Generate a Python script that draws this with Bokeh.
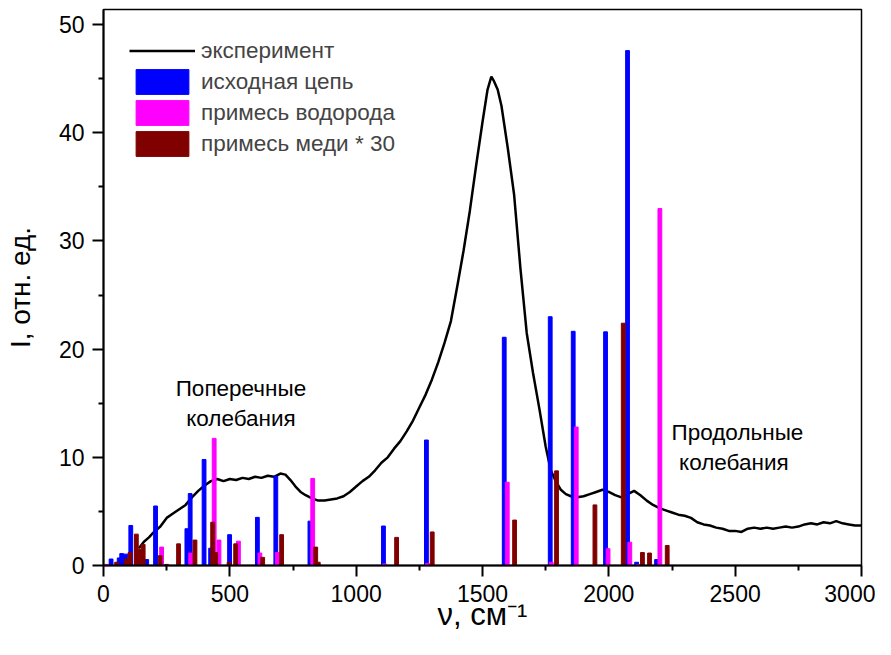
from bokeh.plotting import figure
from bokeh.models import Range1d, FixedTicker, Label, Legend, LegendItem
from bokeh.embed import file_html
from bokeh.resources import INLINE

FONT = "Liberation Sans"

# experimental spectrum (wavenumber, intensity)
exp_v = [140, 160, 180, 200, 225, 250, 275, 300, 325, 350, 375, 400, 425, 450, 475,
         500, 525, 550, 575, 600, 625, 650, 675, 700, 720, 740, 760, 780, 800, 825,
         850, 875, 900, 925, 950, 975, 1000, 1025, 1050, 1075, 1100, 1125, 1150, 1175,
         1200, 1225, 1250, 1275, 1300, 1325, 1350, 1375, 1400, 1425, 1450, 1475, 1500,
         1520, 1535, 1545, 1560, 1575, 1600, 1625, 1650, 1675, 1700, 1725, 1750, 1770,
         1790, 1810, 1830, 1850, 1875, 1900, 1925, 1950, 1975, 2000, 2025, 2050, 2075,
         2100, 2125, 2150, 2175, 2200, 2225, 2250, 2275, 2300, 2325, 2350, 2375, 2400,
         2425, 2450, 2475, 2500, 2525, 2550, 2575, 2600, 2625, 2650, 2675, 2700, 2725,
         2750, 2775, 2800, 2825, 2850, 2875, 2900, 2925, 2950, 2975, 3000]
exp_i = [1.6, 2.2, 2.6, 3.1, 3.6, 4.4, 4.8, 5.2, 5.6, 6.3, 6.9, 7.4, 7.8, 8.0, 7.8,
         8.0, 7.9, 8.1, 8.0, 8.2, 8.1, 8.3, 8.2, 8.5, 8.4, 7.9, 7.3, 6.8, 6.5, 6.2,
         6.0, 6.0, 6.1, 6.2, 6.4, 6.8, 7.3, 7.8, 8.2, 8.8, 9.5, 10.0, 10.8, 11.5,
         12.4, 13.4, 14.6, 15.8, 17.2, 18.8, 20.6, 22.6, 25.8, 29.1, 32.8, 37.0, 41.0,
         44.0, 45.2, 44.8, 44.0, 42.5, 38.6, 34.3, 27.5, 21.5, 17.8, 14.5, 11.0, 8.8,
         7.8, 7.0, 6.6, 6.4, 6.3, 6.4, 6.6, 6.8, 7.0, 6.8, 6.5, 6.3, 6.6,
         6.9, 6.5, 6.0, 5.6, 5.3, 5.1, 4.9, 4.7, 4.6, 4.4, 4.0, 3.8, 3.7,
         3.5, 3.4, 3.2, 3.2, 3.1, 3.4, 3.5, 3.4, 3.5, 3.4, 3.5, 3.6, 3.5,
         3.6, 3.8, 3.9, 3.8, 4.0, 3.9, 4.1, 3.9, 3.8, 3.7, 3.7]

# calculated spectra
blue_x = [30, 62, 72, 88, 108, 171, 206, 330, 343, 398, 424, 499, 609, 682, 817,
          1108, 1278, 1586, 1768, 1859, 1987, 2074, 2110, 2189]
blue_y = [0.6, 0.7, 1.1, 1.05, 3.7, 0.55, 5.5, 3.4, 6.65, 9.8, 1.6, 2.85, 4.45, 8.25, 4.1,
          3.65, 11.6, 21.1, 23.0, 21.65, 21.6, 47.6, 0.3, 0.55]

pink_x = [12, 230, 345, 438, 457, 534, 619, 688, 828, 1112, 1282, 1598, 1772, 1871,
          1997, 2083, 2115, 2202]
pink_y = [0.1, 1.7, 1.15, 11.75, 2.35, 2.25, 1.15, 1.2, 8.05, 0.15, 0.2, 7.7, 0.3, 12.8,
          1.55, 2.15, 0.1, 33.0]

red_x = [52, 90, 105, 130, 145, 157, 224, 250, 297, 362, 432, 444, 497, 523, 630, 705,
         840, 850, 1160, 1301, 1627, 1793, 1945, 2057, 2133, 2161, 2231]
red_y = [0.3, 0.6, 1.2, 2.9, 1.5, 1.95, 0.9, 0.1, 2.0, 2.35, 4.0, 1.2, 0.3, 2.0, 0.75, 2.85,
         1.7, 0.3, 2.6, 3.1, 4.2, 8.75, 5.6, 22.4, 1.2, 1.15, 1.85]

x_ticks = [0, 500, 1000, 1500, 2000, 2500, 3000]
x_minor = [250, 750, 1250, 1750, 2250, 2750]
y_ticks = [0, 10, 20, 30, 40, 50]
y_minor = [5, 15, 25, 35, 45]

legend_labels = ["эксперимент", "исходная цепь", "примесь водорода", "примесь меди * 30"]

p = figure(width=875, height=639, output_backend="svg", toolbar_location=None,
           x_range=Range1d(0, 3000), y_range=Range1d(0, 51.4),
           min_border_left=103, min_border_right=14, min_border_top=9, min_border_bottom=74)

r_exp = p.line(exp_v, exp_i, line_color="black", line_width=2.5)
r_blue = p.vbar(x=blue_x, top=blue_y, width=15, fill_color="#0000FF", line_color="#0000FF")
r_pink = p.vbar(x=pink_x, top=pink_y, width=15, fill_color="#FF00FF", line_color="#FF00FF")
r_red = p.vbar(x=red_x, top=red_y, width=15, fill_color="#800000", line_color="#800000")

legend = Legend(items=[LegendItem(label=legend_labels[0], renderers=[r_exp]),
                       LegendItem(label=legend_labels[1], renderers=[r_blue]),
                       LegendItem(label=legend_labels[2], renderers=[r_pink]),
                       LegendItem(label=legend_labels[3], renderers=[r_red])],
                location="top_left", margin=26, padding=0, spacing=-3,
                glyph_width=66, glyph_height=31, label_height=31, label_standoff=6,
                label_text_font=FONT, label_text_font_size="22.5px",
                border_line_alpha=0, background_fill_alpha=0)
p.add_layout(legend)

p.xgrid.visible = False
p.ygrid.visible = False
p.xaxis.ticker = FixedTicker(ticks=x_ticks, minor_ticks=x_minor)
p.yaxis.ticker = FixedTicker(ticks=y_ticks, minor_ticks=y_minor)
for ax in (p.xaxis, p.yaxis):
    ax.axis_line_width = 2
    ax.axis_line_color = "black"
    ax.major_tick_line_width = 2
    ax.minor_tick_line_width = 2
    ax.major_tick_line_color = "black"
    ax.minor_tick_line_color = "black"
    ax.major_tick_out = 11
    ax.major_tick_in = 0
    ax.minor_tick_out = 5
    ax.minor_tick_in = 0
    ax.major_label_text_font = FONT
    ax.major_label_text_font_size = "23px"
    ax.major_label_text_color = "black"
    ax.major_label_standoff = 8
    ax.axis_label_text_font_style = "normal"
    ax.axis_label_text_color = "black"
    ax.axis_label_text_font = FONT
p.yaxis.axis_label = "I, отн. ед."
p.yaxis.axis_label_text_font_size = "28px"
p.yaxis.axis_label_standoff = 20
p.xaxis.axis_label = "ν, см⁻¹"
p.xaxis.axis_label_text_font_size = "31px"
p.xaxis.axis_label_standoff = -8

p.outline_line_color = "black"
p.outline_line_width = 1.5

for txt, xv, yv in [("Поперечные", 544, 16.4), ("колебания", 544, 13.6),
                    ("Продольные", 2509, 12.3), ("колебания", 2495, 9.5)]:
    p.add_layout(Label(x=xv, y=yv, text=txt, text_align="center", text_baseline="middle",
                       text_font=FONT, text_font_size="22.5px", text_color="black"))

open("out.html", "w").write(file_html(p, INLINE))
